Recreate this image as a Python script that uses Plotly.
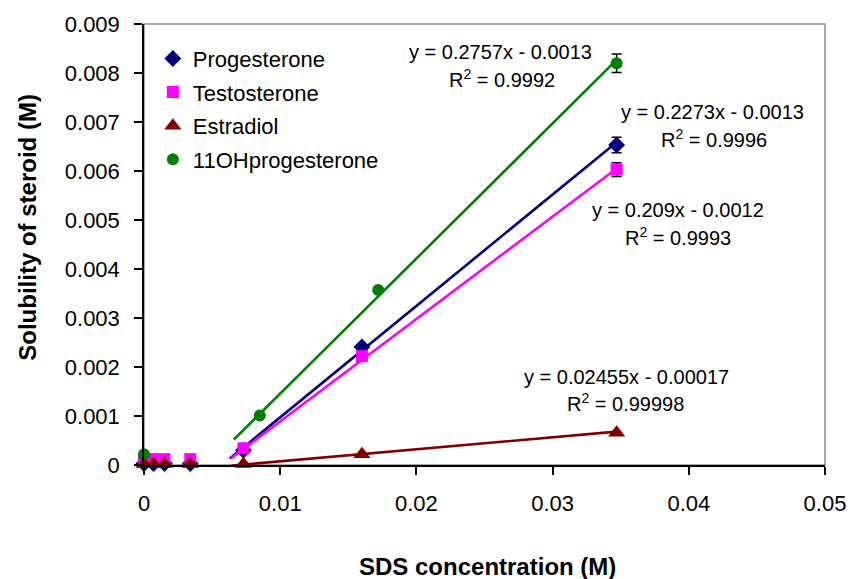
import plotly.graph_objects as go

# ---- measured solubility data (M) vs SDS concentration (M) ----
prog_x = [0, 0.0007, 0.0015, 0.0034, 0.0073, 0.0160, 0.0347]
prog_y = [0.00003, 0.00003, 0.00003, 0.00003, 0.00030, 0.00241, 0.00653]
prog_err = [None, None, None, None, None, None, 0.00016]

testo_x = [0, 0.0007, 0.0015, 0.0034, 0.0073, 0.0160, 0.0347]
testo_y = [0.00012, 0.00012, 0.00012, 0.00012, 0.00034, 0.00222, 0.00603]
testo_err = [None, None, None, None, None, None, 0.00014]

estr_x = [0, 0.0007, 0.0015, 0.0034, 0.0073, 0.0160, 0.0347]
estr_y = [0.00002, 0.00002, 0.00002, 0.00002, 0.00002, 0.00022, 0.00066]

ohp_x = [0, 0.0085, 0.0172, 0.0347]
ohp_y = [0.00022, 0.00101, 0.00357, 0.00820]
ohp_err = [None, None, None, 0.00019]

# ---- linear fits (slope, intercept, R^2) and fitted range ----
fit_prog = (0.2273, -0.0013, "0.9996")
fit_testo = (0.209, -0.0012, "0.9993")
fit_estr = (0.02455, -0.00017, "0.99998")
fit_ohp = (0.2757, -0.0013, "0.9992")
fit_start = {"prog": 0.0063, "testo": 0.0064, "estr": 0.0064, "ohp": 0.0066}
fit_end = 0.0347

x_ticks = [0, 0.01, 0.02, 0.03, 0.04, 0.05]
x_ticktext = ["0", "0.01", "0.02", "0.03", "0.04", "0.05"]
y_ticks = [0, 0.001, 0.002, 0.003, 0.004, 0.005, 0.006, 0.007, 0.008, 0.009]
y_ticktext = ["0", "0.001", "0.002", "0.003", "0.004", "0.005", "0.006", "0.007", "0.008", "0.009"]

FONT = "Liberation Sans, Arial, sans-serif"
NAVY, MAGENTA, DARKRED, GREEN = "#000080", "#FF00FF", "#800000", "#008000"

fig = go.Figure()


def fit_line(fit, key, color):
    m, b, _ = fit
    xs = [fit_start[key], fit_end]
    ys = [m * x + b for x in xs]
    fig.add_trace(go.Scatter(x=xs, y=ys, mode="lines", showlegend=False,
                             line=dict(color=color, width=2.6),
                             hoverinfo="skip", cliponaxis=False))


fit_line(fit_prog, "prog", NAVY)
fit_line(fit_testo, "testo", MAGENTA)
fit_line(fit_estr, "estr", DARKRED)
fit_line(fit_ohp, "ohp", GREEN)

err_style = dict(type="data", color="black", thickness=1.5, width=5)

fig.add_trace(go.Scatter(
    x=prog_x, y=prog_y, mode="markers", name="Progesterone", legendgroup="a",
    marker=dict(symbol="diamond", size=13, color=NAVY),
    error_y=dict(array=prog_err, **err_style), cliponaxis=False))
fig.add_trace(go.Scatter(
    x=testo_x, y=testo_y, mode="markers", name="Testosterone", legendgroup="b",
    marker=dict(symbol="square", size=12, color=MAGENTA),
    error_y=dict(array=testo_err, **err_style), cliponaxis=False))
fig.add_trace(go.Scatter(
    x=estr_x, y=estr_y, mode="markers", name="Estradiol", legendgroup="c",
    marker=dict(symbol="triangle-up", size=15, color=DARKRED), cliponaxis=False))
fig.add_trace(go.Scatter(
    x=ohp_x, y=ohp_y, mode="markers", name="11OHprogesterone", legendgroup="d",
    marker=dict(symbol="circle", size=12, color=GREEN),
    error_y=dict(array=ohp_err, **err_style), cliponaxis=False))


def eq_text(fit):
    m, b, _ = fit
    sign = "-" if b < 0 else "+"
    return f"y = {m:g}x {sign} {abs(b):g}"


def r2_text(fit):
    return f"R<sup>2</sup> = {fit[2]}"


# equation labels, placed in data coordinates next to each fit
labels = [
    (fit_ohp, 0.02618, 0.008435, 0.02627, 0.00789),
    (fit_prog, 0.04175, 0.007210, 0.04183, 0.006665),
    (fit_testo, 0.03920, 0.005204, 0.03917, 0.004660),
    (fit_estr, 0.03539, 0.001801, 0.03534, 0.001271),
]
ann_font = dict(family=FONT, size=20, color="black")
for fit, x1, y1, x2, y2 in labels:
    fig.add_annotation(x=x1, y=y1, text=eq_text(fit), showarrow=False,
                       xanchor="center", yanchor="middle", font=ann_font)
    fig.add_annotation(x=x2, y=y2, text=r2_text(fit), showarrow=False,
                       xanchor="center", yanchor="middle", font=ann_font)

title_font = dict(family=FONT, size=24, color="black", weight="bold")
fig.add_annotation(xref="paper", yref="paper", x=-0.1715, y=0.5385,
                   text="Solubility of steroid (M)", textangle=-90,
                   showarrow=False, xanchor="center", yanchor="middle",
                   font=title_font)
fig.add_annotation(xref="paper", yref="paper", x=0.504, y=-0.231,
                   text="SDS concentration (M)", showarrow=False,
                   xanchor="center", yanchor="middle", font=title_font)

# grey plot-area frame
fig.add_shape(type="rect", xref="paper", yref="paper", x0=0, x1=1, y0=0, y1=1,
              line=dict(color="#8c8c8c", width=1.5), layer="below")

fig.update_layout(
    width=858, height=579,
    margin=dict(l=144, r=26, t=24, b=114),
    paper_bgcolor="white", plot_bgcolor="white",
    font=dict(family=FONT, color="black"),
    showlegend=True,
    legend=dict(x=0.013, y=0.969, xanchor="left", yanchor="top",
                bgcolor="rgba(0,0,0,0)", font=dict(family=FONT, size=22),
                tracegroupgap=2),
    xaxis=dict(range=[0, 0.05], tickvals=x_ticks, ticktext=x_ticktext,
               showgrid=False, zeroline=False, showline=True,
               linecolor="black", linewidth=1.5, ticks="outside",
               ticklen=8, tickwidth=1.5, tickcolor="black",
               tickfont=dict(family=FONT, size=22), ticklabelstandoff=10),
    yaxis=dict(range=[0, 0.009], tickvals=y_ticks, ticktext=y_ticktext,
               showgrid=False, zeroline=False, showline=True,
               linecolor="black", linewidth=1.5, ticks="outside",
               ticklen=8, tickwidth=1.5, tickcolor="black",
               tickfont=dict(family=FONT, size=22), ticklabelstandoff=10),
)

fig.write_html("out.html")
